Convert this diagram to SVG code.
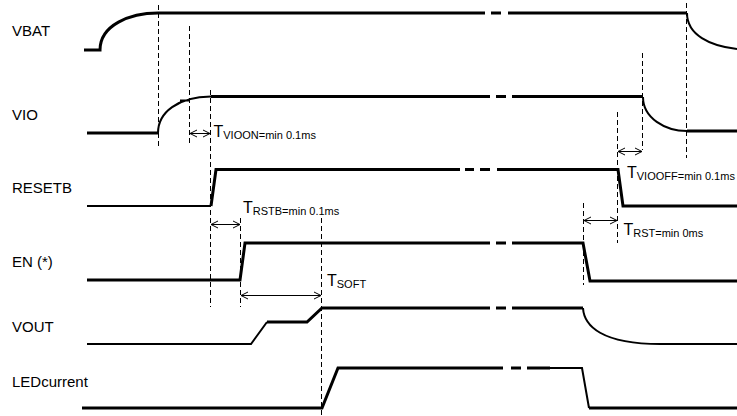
<svg xmlns="http://www.w3.org/2000/svg" width="737" height="416" viewBox="0 0 737 416">
<defs>
<marker id="ah" markerWidth="10" markerHeight="10" refX="0" refY="0" orient="auto-start-reverse" markerUnits="userSpaceOnUse" overflow="visible">
<path d="M-7,-3.5 L0,0 L-7,3.5" fill="none" stroke="#000" stroke-width="1"/>
</marker>
</defs>
<style>
.lbl{font-family:"Liberation Sans",Arial,sans-serif;font-size:15px;fill:#000}
.tm{font-family:"Liberation Sans",Arial,sans-serif;font-size:16px;fill:#000}
.sub{font-size:11px}
.w{fill:none;stroke:#000;stroke-width:3;stroke-linejoin:miter}
.w2{fill:none;stroke:#000;stroke-width:2}
.d{fill:none;stroke:#000;stroke-width:1;stroke-dasharray:5 3}
.a{fill:none;stroke:#000;stroke-width:1;marker-start:url(#ah);marker-end:url(#ah)}
</style>
<rect width="737" height="416" fill="#fff"/>

<g id="vbat">
<text class="lbl" x="12" y="36">VBAT</text>
<path class="w" d="M84,50 L100,50 C100,25 130,13 158,13 L485,13 M491,13 L501,13 M508,13 L687,13"/>
<path class="w2" d="M687,13 C687,35 710,46 737,49"/>
</g>

<g id="vio">
<text class="lbl" x="12" y="120">VIO</text>
<path class="w" d="M87,133 L158,133 M211,96.5 L490,96.5 M496,96.5 L506,96.5 M512,96.5 L643,96.5 M687,131 L737,131"/>
<path class="w2" d="M158,133 C158,112 178,97 211,96.5 M180,100.5 L190,100.5 M643,97 C643,118 665,131 687,131"/>
</g>

<g id="resetb">
<text class="lbl" x="12" y="193">RESETB</text>
<path class="w2" d="M87,206 L211,206"/>
<path class="w" d="M211,206 L216,169.5 L460,169.5 M465,169.5 L474,169.5 M480,169.5 L490,169.5 M497,169.5 L618,169.5 L623,206 L737,206"/>
</g>

<g id="en">
<text class="lbl" x="12" y="267">EN (*)</text>
<path class="w" d="M87,280 L240,280 L245,243 L490,243 M496,243 L506,243 M512,243 L583,243 L590,281 L737,281"/>
</g>

<g id="vout">
<text class="lbl" x="12" y="332">VOUT</text>
<path class="w2" d="M87,344 L251,344 L267,322"/>
<path class="w" d="M267,322 L307,322 L322,308 L490,308 M496,308 L506,308 M512,308 L583,308"/>
<path class="w2" d="M583,308 C584,326 602,344 660,344 L737,344"/>
</g>

<g id="ledcurrent">
<text class="lbl" x="12" y="387">LEDcurrent</text>
<path class="w" d="M82,408 L322,408 L338,368 L503,368 M511,368 L521,368 M527,368 L550,368"/>
<path class="w2" d="M550,368 L582,368 L589,408"/>
<path class="w" d="M589,408 L737,408"/>
</g>

<g id="connectors">
<path class="d" d="M158.5,5 V146 M189.5,26 V146 M210.5,90 V307 M240.5,218 V307 M321.5,218 V416 M686.5,3 V158 M642.5,53 V150 M617.5,112 V243 M583.5,203 V285"/>
<path class="a" d="M190,133.5 H210"/>
<path class="a" d="M211,224.5 H240"/>
<path class="a" d="M241,295.5 H321"/>
<path class="a" d="M618,151.5 H642"/>
<path class="a" d="M584,220.5 H617"/>
</g>

<g id="timing-labels">
<text class="tm" x="213.5" y="137">T<tspan class="sub" dy="2">VIOON=min 0.1ms</tspan></text>
<text class="tm" x="243" y="213">T<tspan class="sub" dy="2">RSTB=min 0.1ms</tspan></text>
<text class="tm" x="327" y="286">T<tspan class="sub" dy="2">SOFT</tspan></text>
<text class="tm" x="627" y="178">T<tspan class="sub" dy="2">VIOOFF=min 0.1ms</tspan></text>
<text class="tm" x="623.5" y="235">T<tspan class="sub" dy="2">RST=min 0ms</tspan></text>
</g>
</svg>
